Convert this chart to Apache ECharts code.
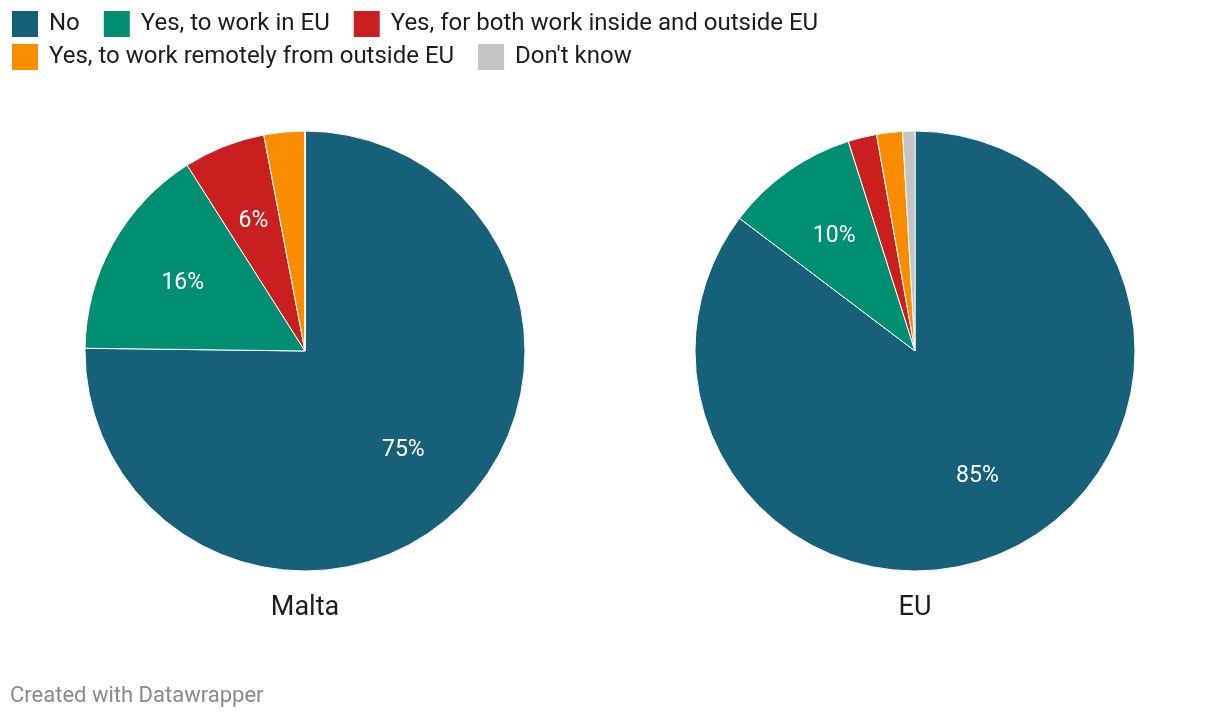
<!DOCTYPE html>
<html>
<head>
<meta charset="utf-8">
<script src="https://cdn.jsdelivr.net/npm/echarts@6/dist/echarts.min.js"></script>
<style>html,body{margin:0;padding:0;background:#fff;}#c{width:1220px;height:720px;}</style>
</head>
<body>
<div id="c"></div>
<script>
const categories = ["No", "Yes, to work in EU", "Yes, for both work inside and outside EU", "Yes, to work remotely from outside EU", "Don't know"];
const maltaValues = [75.2, 15.8, 6, 3, 0];
const euValues = [85.3, 9.8, 2.1, 1.9, 0.9];
const maltaLabels = ["75%", "16%", "6%", "", ""];
const euLabels = ["85%", "10%", "", "", ""];
const colors = ["#17607a", "#008f72", "#c91f1f", "#fa8c00", "#c4c4c4"];
const FONT = "Roboto, 'Noto Sans', sans-serif";

function mk(values, labels) {
  return values.map((v, i) => ({ name: categories[i], value: v, labelText: labels[i] }));
}
function pieSeries(values, labels, cx) {
  return [
    {
      type: 'pie', center: [cx, 351], radius: [0, 220], startAngle: 90, clockwise: true,
      data: mk(values, labels), color: colors,
      itemStyle: { borderColor: '#fff', borderWidth: 1 },
      label: { show: false }, labelLine: { show: false }, emphasis: { disabled: true },
      animation: false
    },
    {
      type: 'pie', center: [cx, 351], radius: [54, 220], startAngle: 90, clockwise: true, silent: true,
      data: mk(values, labels),
      itemStyle: { color: 'rgba(0,0,0,0)', borderWidth: 0 },
      label: {
        show: true, position: 'inside', color: '#fff', fontSize: 23, fontFamily: FONT,
        formatter: p => p.data.labelText
      },
      labelLine: { show: false }, emphasis: { disabled: true }, animation: false
    }
  ];
}

const chart = echarts.init(document.getElementById('c'), null, { renderer: 'canvas' });
const legendCommon = {
  orient: 'horizontal', left: 10, itemWidth: 28, itemHeight: 28, itemGap: 22, padding: 0,
  icon: 'rect', selectedMode: false,
  textStyle: { fontSize: 24, color: '#1d1d1d', fontFamily: FONT, padding: [0, 0, 0, 5] }
};
chart.setOption({
  backgroundColor: '#fff',
  color: colors,
  legend: [
    Object.assign({}, legendCommon, { top: 9, data: categories.slice(0, 3) }),
    Object.assign({}, legendCommon, { top: 42, data: categories.slice(3) })
  ],
  series: [...pieSeries(maltaValues, maltaLabels, 305), ...pieSeries(euValues, euLabels, 915)],
  graphic: [
    { type: 'text', x: 305, y: 608, style: { text: 'Malta', fill: '#1d1d1d', font: '27px ' + FONT, textAlign: 'center', textVerticalAlign: 'middle' } },
    { type: 'text', x: 915, y: 608, style: { text: 'EU', fill: '#1d1d1d', font: '27px ' + FONT, textAlign: 'center', textVerticalAlign: 'middle' } },
    { type: 'text', x: 10, y: 696, style: { text: 'Created with Datawrapper', fill: '#8a8a8a', font: '22px ' + FONT, textAlign: 'left', textVerticalAlign: 'middle' } }
  ]
});
</script>
</body>
</html>
